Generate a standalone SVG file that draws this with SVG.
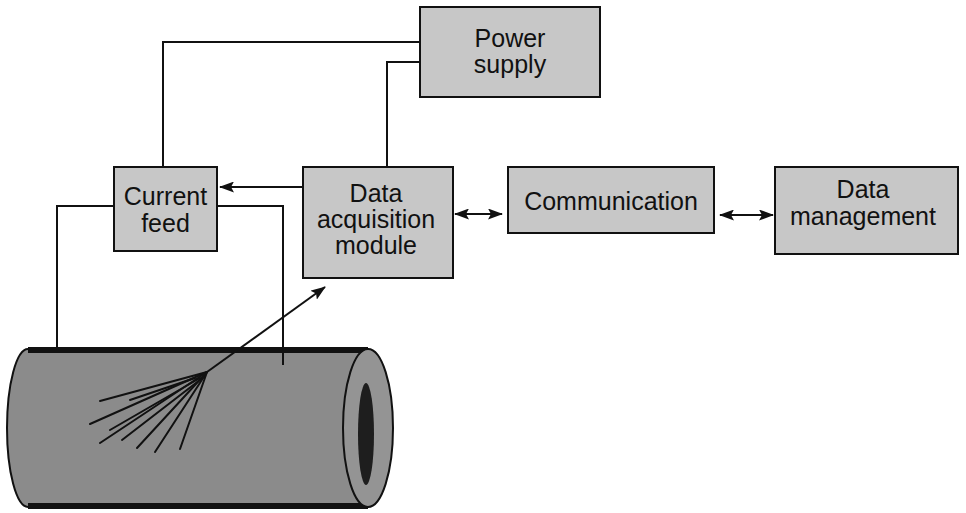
<svg xmlns="http://www.w3.org/2000/svg" width="966" height="513" viewBox="0 0 966 513">
  <style>
    .box { fill: #c7c7c7; stroke: #111; stroke-width: 2; }
    .lbl { font-family: "Liberation Sans", Arial, sans-serif; font-size: 25px; fill: #111; text-anchor: middle; }
    .wire { fill: none; stroke: #111; stroke-width: 2; }
    .fan { fill: none; stroke: #111; stroke-width: 2; stroke-linecap: round; }
  </style>
  <defs>
    <marker id="head" viewBox="0 0 15 11" refX="14" refY="5.5" markerWidth="15" markerHeight="11" markerUnits="userSpaceOnUse" orient="auto-start-reverse">
      <path d="M0,0 L15,5.5 L0,11 L3,5.5 Z" fill="#111"/>
    </marker>
  </defs>
  <rect width="966" height="513" fill="#ffffff"/>

  <!-- pipe section -->
  <g id="pipe">
    <path d="M28,349 L368,349 L368,507 L28,507 A21,79 0 0 1 28,349 Z" fill="#8b8b8b" stroke="#111" stroke-width="2"/>
    <line x1="28" y1="350" x2="368" y2="350" stroke="#111" stroke-width="6"/>
    <line x1="28" y1="506" x2="368" y2="506" stroke="#111" stroke-width="6"/>
    <ellipse cx="368" cy="428" rx="25" ry="79" fill="#949494" stroke="#111" stroke-width="2"/>
    <ellipse cx="366" cy="434" rx="8" ry="51" fill="#1e1e1e"/>
    <!-- crack branches -->
    <g class="fan">
      <line x1="207" y1="372" x2="100" y2="401"/>
      <line x1="195" y1="378" x2="130" y2="400"/>
      <line x1="207" y1="372" x2="90" y2="424"/>
      <line x1="200" y1="378" x2="110" y2="430"/>
      <line x1="207" y1="372" x2="100" y2="443"/>
      <line x1="205" y1="376" x2="122" y2="440"/>
      <line x1="207" y1="372" x2="137" y2="448"/>
      <line x1="207" y1="372" x2="155" y2="452"/>
      <line x1="207" y1="372" x2="180" y2="449"/>
    </g>
  </g>

  <!-- connectors -->
  <g id="connectors">
    <polyline class="wire" points="420,42 163,42 163,167"/>
    <polyline class="wire" points="420,62 387,62 387,167"/>
    <polyline class="wire" points="114,206 57,206 57,350"/>
    <polyline class="wire" points="217,206 283,206 283,365"/>
    <line class="wire" x1="303" y1="187" x2="220" y2="187" marker-end="url(#head)"/>
    <line class="wire" x1="207" y1="372" x2="325" y2="287" marker-end="url(#head)"/>
    <line class="wire" x1="455" y1="214" x2="502" y2="214" marker-start="url(#head)" marker-end="url(#head)"/>
    <line class="wire" x1="720" y1="215" x2="773" y2="215" marker-start="url(#head)" marker-end="url(#head)"/>
  </g>

  <g id="power-supply">
    <rect class="box" x="420" y="7" width="180" height="90"/>
    <text class="lbl" x="510" y="47">Power</text>
    <text class="lbl" x="510" y="73">supply</text>
  </g>

  <g id="current-feed">
    <rect class="box" x="114" y="167" width="103" height="84"/>
    <text class="lbl" x="165.5" y="205">Current</text>
    <text class="lbl" x="165.5" y="232">feed</text>
  </g>

  <g id="data-acquisition">
    <rect class="box" x="303" y="167" width="150" height="111"/>
    <text class="lbl" x="376" y="202">Data</text>
    <text class="lbl" x="376" y="228">acquisition</text>
    <text class="lbl" x="376" y="254">module</text>
  </g>

  <g id="communication">
    <rect class="box" x="508" y="167" width="206" height="66"/>
    <text class="lbl" x="611" y="210">Communication</text>
  </g>

  <g id="data-management">
    <rect class="box" x="775" y="167" width="183" height="87"/>
    <text class="lbl" x="863" y="198">Data</text>
    <text class="lbl" x="863" y="225">management</text>
  </g>
</svg>
